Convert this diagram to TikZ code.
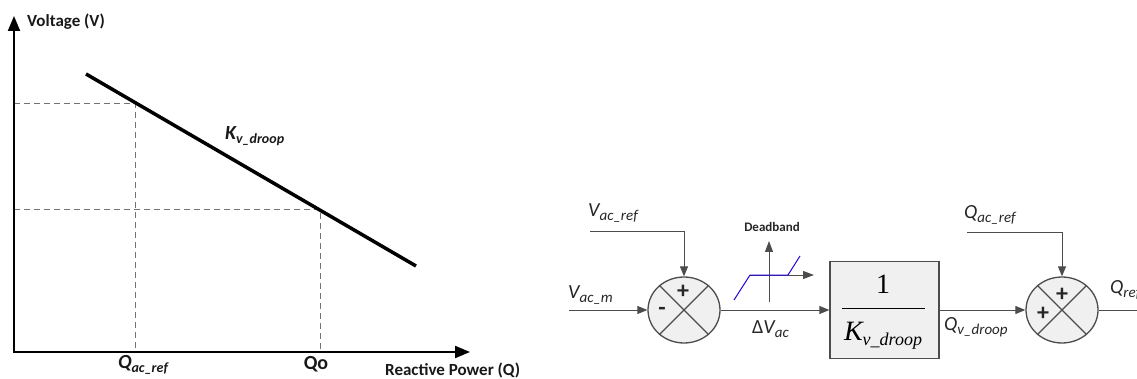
\documentclass[tikz,border=0pt]{standalone}
\usepackage{fontspec}
\setmainfont{Carlito}
\newfontfamily\tnr{Liberation Serif}
\usetikzlibrary{arrows.meta,shapes.geometric}
\newcommand{\fs}[1]{\fontsize{#1}{#1}\selectfont}
\newcommand{\sbx}[3]{#1\raisebox{-0.4ex}{\fs{#2}#3}}
\begin{document}
\begin{tikzpicture}[x=1pt,y=-1pt,
  axis/.style={line width=2pt,black,-{Triangle[length=15pt,width=12pt]}},
  guide/.style={draw=black!55,line width=0.8pt,dash pattern=on 6pt off 4pt},
  droop/.style={line width=3.5pt,black},
  glabel/.style={inner sep=0pt,text=black!90},
  conn/.style={draw=black!70,line width=1pt,-{Triangle[length=10pt,width=8pt]}},
  sumnode/.style={ellipse,draw=black!70,line width=1.3pt,fill=black!6,minimum width=72pt,minimum height=66pt,inner sep=0pt},
  xline/.style={draw=black!70,line width=1.1pt},
  blk/.style={rectangle,draw=black!70,line width=1.3pt,fill=black!6,minimum width=109pt,minimum height=97pt,inner sep=0pt},
  sgn/.style={inner sep=0pt,font=\fs{24}\bfseries,text=black!85},
  rlabel/.style={inner sep=0pt,anchor=west,text=black!85,font=\fs{20}\itshape},
  dbax/.style={draw=black!70,line width=1pt,-{Triangle[length=11pt,width=8pt]}},
  dbline/.style={draw=blue!70!violet,line width=1pt}
]
\useasboundingbox (0,0) rectangle (1137,379);
% ---------- left: droop characteristic ----------
\draw[guide] (14,103) -- (135,103) -- (135,352);
\draw[guide] (14,209) -- (320,209) -- (320,352);
\draw[axis] (14,353) -- (14,16);
\draw[axis] (13,352) -- (470,352);
\draw[droop] (86,74) -- (416,266);
\node[glabel,anchor=west,font=\fs{17}\bfseries] (vlab) at (27,22) {Voltage (V)};
\node[glabel,anchor=west,font=\fs{20}\bfseries\itshape] (klab) at (225,136) {\sbx{K}{14}{v\_droop}};
\node[glabel,font=\fs{20}\bfseries\itshape] (qreflab) at (143,365) {\sbx{Q}{14}{ac\_ref}};
\node[glabel,font=\fs{20}\bfseries] (qolab) at (316,364) {Qo};
\node[glabel,anchor=west,font=\fs{17}\bfseries] (rplab) at (385,370) {Reactive Power (Q)};
% ---------- right: control diagram ----------
\node[sumnode] (s1) at (684,310) {};
\draw[xline] (s1.45) -- (s1.225) (s1.135) -- (s1.315);
\node[sgn] (s1p) at (683,292) {+};
\node[sgn] (s1m) at (662,311) {-};
\node[blk] (blk) at (884.5,310) {};
\node[inner sep=0pt,font=\tnr\fs{28}] (one) at (883,284) {1};
\draw[line width=0.9pt] (842,308) -- (925,308);
\node[inner sep=0pt,font=\tnr\fs{28}\itshape] (kden) at (883,336) {\sbx{K}{18}{v\_droop}};
\node[sumnode] (s2) at (1062,310) {};
\draw[xline] (s2.45) -- (s2.225) (s2.135) -- (s2.315);
\node[sgn] (s2p) at (1062,295) {+};
\node[sgn] (s2pl) at (1043,314) {+};
% connectors
\coordinate (vrefin) at (590,232);
\coordinate (vmin) at (569,310);
\coordinate (qrefin) at (967,233);
\coordinate (qout) at (1148,310);
\draw[conn] (vrefin) -| (s1.north);
\draw[conn] (vmin) -- (s1.west);
\draw[conn] (s1.east) -- (blk.west);
\draw[conn] (blk.east) -- (s2.west);
\draw[conn] (qrefin) -| (s2.north);
\draw[conn] (s2.east) -- (qout);
% labels
\node[rlabel] (vref) at (588,213) {\sbx{V}{15}{ac\_ref}};
\node[rlabel] (vm) at (568,295) {\sbx{V}{15}{ac\_m}};
\node[rlabel] (dv) at (752,329) {\sbx{\normalfont\fs{20}Δ\itshape V}{15}{ac}};
\node[rlabel] (qacref) at (964,215) {\sbx{Q}{15}{ac\_ref}};
\node[rlabel] (qvd) at (944,327) {\sbx{Q}{15}{v\_droop}};
\node[rlabel] (qref) at (1110,290) {\sbx{Q}{15}{ref}};
% deadband
\draw[dbax] (769,302) -- (769,241);
\draw[dbax] (750,275) -- (814,275);
\draw[dbline] (734,300) -- (750,275) -- (788,275) -- (800,256);
\node[inner sep=0pt,font=\fs{13}\bfseries,text=black!85] (dblab) at (772,227) {Deadband};
\end{tikzpicture}
\end{document}
